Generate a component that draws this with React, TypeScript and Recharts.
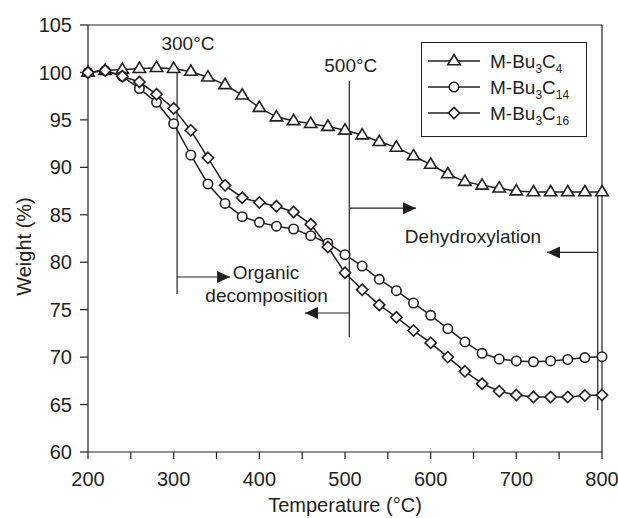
import React from "react";
import { LineChart, Line, XAxis, YAxis, ReferenceLine, ReferenceDot, Legend } from "recharts";

// TGA curves, weight (%) read every 20 °C
const temperatures = [
  200, 220, 240, 260, 280, 300, 320, 340, 360, 380, 400, 420, 440, 460, 480, 500,
  520, 540, 560, 580, 600, 620, 640, 660, 680, 700, 720, 740, 760, 780, 800,
];
const bu3c4 = [
  100.0, 100.2, 100.3, 100.4, 100.5, 100.4, 100.1, 99.5, 98.7, 97.6, 96.3, 95.3, 94.9, 94.6, 94.3, 93.9,
  93.4, 92.7, 92.1, 91.2, 90.3, 89.3, 88.5, 88.1, 87.8, 87.5, 87.4, 87.4, 87.4, 87.4, 87.4,
];
const bu3c14 = [
  100.0, 100.2, 99.6, 98.3, 96.85, 94.6, 91.3, 88.25, 86.2, 84.8, 84.2, 83.8, 83.5, 82.8, 82.0, 80.8,
  79.6, 78.2, 77.0, 75.7, 74.4, 73.0, 71.6, 70.4, 69.8, 69.6, 69.5, 69.6, 69.75, 69.95, 70.05,
];
const bu3c16 = [
  100.0, 100.2, 99.6, 99.0, 97.7, 96.2, 93.9, 91.0, 88.1, 86.8, 86.3, 85.9, 85.3, 84.0, 81.6, 78.9,
  77.1, 75.5, 74.2, 72.8, 71.5, 70.0, 68.5, 67.2, 66.4, 66.0, 65.8, 65.8, 65.8, 65.95, 66.0,
];
const xTicks = [200, 250, 300, 350, 400, 450, 500, 550, 600, 650, 700, 750, 800];
const yTicks = [60, 65, 70, 75, 80, 85, 90, 95, 100, 105];
const seriesSubs = ["4", "14", "16"];

// annotations: guide lines [temp, fromW, toW], arrows [fromT, toT, w]
const guideLines = [
  [304, 100.26, 76.65],
  [505, 99.1, 72.1],
  [795, 87.4, 64.4],
];
const arrows = [
  [304, 365.8, 78.44],
  [505, 453.3, 74.65],
  [505, 582.9, 85.7],
  [795, 735.8, 81.03],
];
const notes = [
  { t: 316.7, w: 103.07, text: "300°C" },
  { t: 506.8, w: 100.78, text: "500°C" },
  { t: 407.8, w: 78.92, text: "Organic" },
  { t: 408.5, w: 76.5, text: "decomposition" },
  { t: 649.4, w: 82.7, text: "Dehydroxylation" },
];

const data = temperatures.map((t, i) => ({ t, c4: bu3c4[i], c14: bu3c14[i], c16: bu3c16[i] }));

const INK = "#231f20";
const FONT = "'Liberation Sans', Arial, Helvetica, sans-serif";

const triangle = (cx: number, cy: number, key?: string) => (
  <path key={key} d={`M${cx},${cy - 6.5} L${cx + 6.2},${cy + 3.8} L${cx - 6.2},${cy + 3.8} Z`}
    fill="#fff" stroke={INK} strokeWidth={1.6} strokeLinejoin="miter" />
);
const circle = (cx: number, cy: number, key?: string) => (
  <circle key={key} cx={cx} cy={cy} r={4.7} fill="#fff" stroke={INK} strokeWidth={1.6} />
);
const diamond = (cx: number, cy: number, key?: string) => (
  <path key={key} d={`M${cx},${cy - 5.6} L${cx + 5.6},${cy} L${cx},${cy + 5.6} L${cx - 5.6},${cy} Z`}
    fill="#fff" stroke={INK} strokeWidth={1.6} />
);
const markers = [triangle, circle, diamond];

const arrowHead = (cx: number, cy: number, dir: number) => (
  <path d={`M${cx},${cy} L${cx - dir * 13},${cy - 6} L${cx - dir * 13},${cy + 6} Z`} fill={INK} />
);

function LegendBox() {
  return (
    <svg width={167} height={96} style={{ display: "block" }}>
      <rect x={0.5} y={0.5} width={165} height={94} fill="#fff" stroke={INK} strokeWidth={1} />
      {seriesSubs.map((sub, i) => {
        const y = 19 + i * 26;
        return (
          <g key={sub}>
            <line x1={7} x2={59} y1={y} y2={y} stroke={INK} strokeWidth={1.5} />
            {markers[i](33, y)}
            <text x={69} y={y + 7} fontSize={19} fill={INK} fontFamily={FONT}>
              M-Bu<tspan fontSize={12} dy={5}>3</tspan>
              <tspan dy={-5}>C</tspan>
              <tspan fontSize={12} dy={5}>{sub}</tspan>
            </text>
          </g>
        );
      })}
    </svg>
  );
}

export default function App() {
  const tickStyle = { fontSize: 20, fill: INK, fontFamily: FONT };
  return (
    <div style={{ position: "absolute", left: 0, top: 0, background: "#fff" }}>
      <LineChart width={618} height={518} data={data}
        margin={{ top: 25, right: 16, bottom: 0, left: 0 }}>
        <XAxis dataKey="t" type="number" domain={[200, 800]} ticks={xTicks}
          tickFormatter={(v: number) => (v % 100 === 0 ? String(v) : "")}
          height={66} tick={tickStyle} tickSize={7} tickMargin={13}
          stroke={INK} axisLine={{ stroke: INK, strokeWidth: 1.2 }} tickLine={{ stroke: INK, strokeWidth: 1.2 }}
          label={{ value: "Temperature (°C)", position: "insideBottom", offset: 6, fontSize: 20, fill: INK, fontFamily: FONT }} />
        <YAxis type="number" domain={[60, 105]} ticks={yTicks} width={88}
          tick={tickStyle} tickSize={8} tickMargin={8}
          axisLine={{ stroke: INK, strokeWidth: 1.2 }} tickLine={{ stroke: INK, strokeWidth: 1.2 }}
          label={({ viewBox }: any) => {
            const y = viewBox.y + viewBox.height / 2 + 8;
            return (
              <text x={31} y={y} transform={`rotate(-90 31 ${y})`} textAnchor="middle"
                fontSize={20} fill={INK} fontFamily={FONT}>Weight (%)</text>
            );
          }} />
        <ReferenceLine y={105} stroke={INK} strokeWidth={1.2} />
        <ReferenceLine x={800} stroke={INK} strokeWidth={1.2} />
        {guideLines.map(([t, a, b], i) => (
          <ReferenceLine key={`g${i}`} segment={[{ x: t, y: a }, { x: t, y: b }]} stroke={INK} strokeWidth={1.2} />
        ))}
        {arrows.map(([a, b, w], i) => (
          <ReferenceLine key={`a${i}`} segment={[{ x: a, y: w }, { x: b, y: w }]} stroke={INK} strokeWidth={1.2} />
        ))}
        {arrows.map(([a, b, w], i) => (
          <ReferenceDot key={`h${i}`} x={b} y={w} r={0}
            shape={(p: any) => arrowHead(p.cx, p.cy, b > a ? 1 : -1)} />
        ))}
        {notes.map((n, i) => (
          <ReferenceDot key={`n${i}`} x={n.t} y={n.w} r={0}
            shape={(p: any) => (
              <text x={p.cx} y={p.cy} dy="0.35em" textAnchor="middle" fontSize={19} fill={INK} fontFamily={FONT}>
                {n.text}
              </text>
            )} />
        ))}
        <Line dataKey="c4" stroke={INK} strokeWidth={1.5} isAnimationActive={false}
          dot={(p: any) => triangle(p.cx, p.cy, `t${p.index}`)} activeDot={false} />
        <Line dataKey="c14" stroke={INK} strokeWidth={1.5} isAnimationActive={false}
          dot={(p: any) => circle(p.cx, p.cy, `c${p.index}`)} activeDot={false} />
        <Line dataKey="c16" stroke={INK} strokeWidth={1.5} isAnimationActive={false}
          dot={(p: any) => diamond(p.cx, p.cy, `d${p.index}`)} activeDot={false} />
        <Legend layout="vertical" align="center" verticalAlign="middle" width={167}
          wrapperStyle={{ left: 421, top: 42, width: 167, height: 96 }}
          content={() => <LegendBox />} />
      </LineChart>
    </div>
  );
}
